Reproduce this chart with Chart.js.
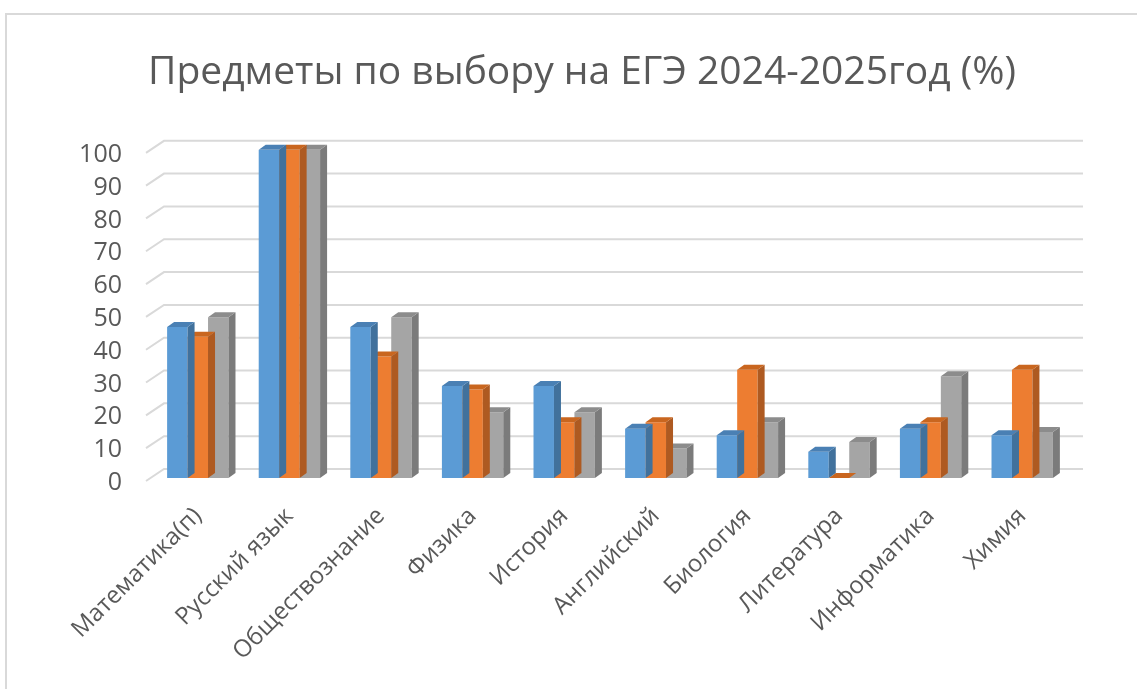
<!DOCTYPE html>
<html>
<head>
<meta charset="utf-8">
<script src="https://cdn.jsdelivr.net/npm/chart.js@4.4.1/dist/chart.umd.min.js"></script>
<style>
  html, body { margin: 0; padding: 0; background: #ffffff; }
  #wrap { position: relative; width: 1137px; height: 689px; overflow: hidden; }
  #frame { position: absolute; left: 5px; top: 13px; width: 1140px; height: 700px;
           border-top: 2px solid #d9d9d9; border-left: 2px solid #d9d9d9; box-sizing: border-box; }
  canvas { position: absolute; left: 0; top: 0; }
</style>
</head>
<body>
<div id="wrap">
  <div id="frame"></div>
  <canvas id="c" width="1137" height="689"></canvas>
</div>
<script>
const titleText = 'Предметы по выбору на ЕГЭ 2024-2025год (%)';
const categories = ['Математика(п)', 'Русский язык', 'Обществознание', 'Физика', 'История',
                    'Английский', 'Биология', 'Литература', 'Информатика', 'Химия'];
const seriesA = [46, 100, 46, 28, 28, 15, 13, 8, 15, 13];
const seriesB = [43, 100, 37, 27, 17, 17, 33, 0, 17, 33];
const seriesC = [49, 100, 49, 20, 20, 9, 17, 11, 31, 14];
const yTicks = [0, 10, 20, 30, 40, 50, 60, 70, 80, 90, 100];

const frontColors = ['#5b9bd5', '#ed7d31', '#a5a5a5'];
const sideColors = ['#41719c', '#ae5a21', '#7b7b7b'];
const topColors = ['#4a80b4', '#c9661f', '#8c8c8c'];

const DX = 7, DY = 5;        // bar depth
const GX = 18, GY = 12;      // back wall offset

const wallPlugin = {
  id: 'wall',
  beforeDatasetsDraw(chart) {
    const ctx = chart.ctx, y = chart.scales.y, area = chart.chartArea;
    ctx.save();
    ctx.strokeStyle = '#d9d9d9';
    ctx.lineWidth = 2;
    yTicks.forEach(v => {
      const py = y.getPixelForValue(v);
      ctx.beginPath();
      ctx.moveTo(area.left - 6, py + 3);
      ctx.lineTo(area.left - 6 + GX, py + 3 - GY);
      ctx.lineTo(area.right + 15, py + 3 - GY);
      ctx.stroke();
    });
    ctx.restore();
  },
  afterDatasetDraw(chart, args) {
    const ctx = chart.ctx, idx = args.index, meta = args.meta;
    ctx.save();
    meta.data.forEach(bar => {
      const p = bar.getProps(['x', 'y', 'base', 'width'], true);
      const l = p.x - p.width / 2, r = p.x + p.width / 2;
      const top = Math.min(p.y, p.base), bot = Math.max(p.y, p.base);
      ctx.fillStyle = sideColors[idx];
      ctx.beginPath();
      ctx.moveTo(r, top);
      ctx.lineTo(r + DX, top - DY);
      ctx.lineTo(r + DX, bot - DY);
      ctx.lineTo(r, bot);
      ctx.closePath();
      ctx.fill();
      ctx.fillStyle = topColors[idx];
      ctx.beginPath();
      ctx.moveTo(l, top);
      ctx.lineTo(l + DX, top - DY);
      ctx.lineTo(r + DX, top - DY);
      ctx.lineTo(r, top);
      ctx.closePath();
      ctx.fill();
    });
    ctx.restore();
  }
};

new Chart(document.getElementById('c'), {
  type: 'bar',
  data: {
    labels: categories,
    datasets: [
      { label: 'A', data: seriesA, backgroundColor: frontColors[0] },
      { label: 'B', data: seriesB, backgroundColor: frontColors[1] },
      { label: 'C', data: seriesC, backgroundColor: frontColors[2] }
    ]
  },
  options: {
    responsive: false,
    animation: false,
    layout: { padding: { left: 60, right: 33, top: 0, bottom: 0 } },
    datasets: { bar: { categoryPercentage: 0.67, barPercentage: 1.0, borderWidth: 0 } },
    plugins: {
      legend: { display: false },
      tooltip: { enabled: false },
      title: {
        display: true,
        text: titleText,
        color: '#595959',
        font: { family: 'Open Sans', size: 39, weight: 'normal' },
        padding: { top: 49, bottom: 54 }
      }
    },
    scales: {
      x: {
        grid: { display: false, drawTicks: false },
        border: { display: false },
        ticks: {
          color: '#595959',
          font: { family: 'Open Sans', size: 24 },
          maxRotation: 45, minRotation: 45,
          padding: 24, autoSkip: false
        },
        afterFit(scale) { scale.height = 211; }
      },
      y: {
        min: 0, max: 100,
        afterBuildTicks(scale) { scale.ticks = yTicks.map(v => ({ value: v })); },
        grid: { display: false, drawTicks: false },
        border: { display: false },
        ticks: {
          color: '#595959',
          font: { family: 'Open Sans', size: 25 },
          padding: 30, autoSkip: false, labelOffset: 5
        },
        afterFit(scale) { scale.width = 92; }
      },
      spacer: {
        type: 'linear',
        position: 'right',
        display: true,
        grid: { display: false, drawTicks: false },
        border: { display: false },
        ticks: { display: false },
        afterFit(scale) { scale.width = 36; }
      }
    }
  },
  plugins: [wallPlugin]
});
</script>
</body>
</html>
